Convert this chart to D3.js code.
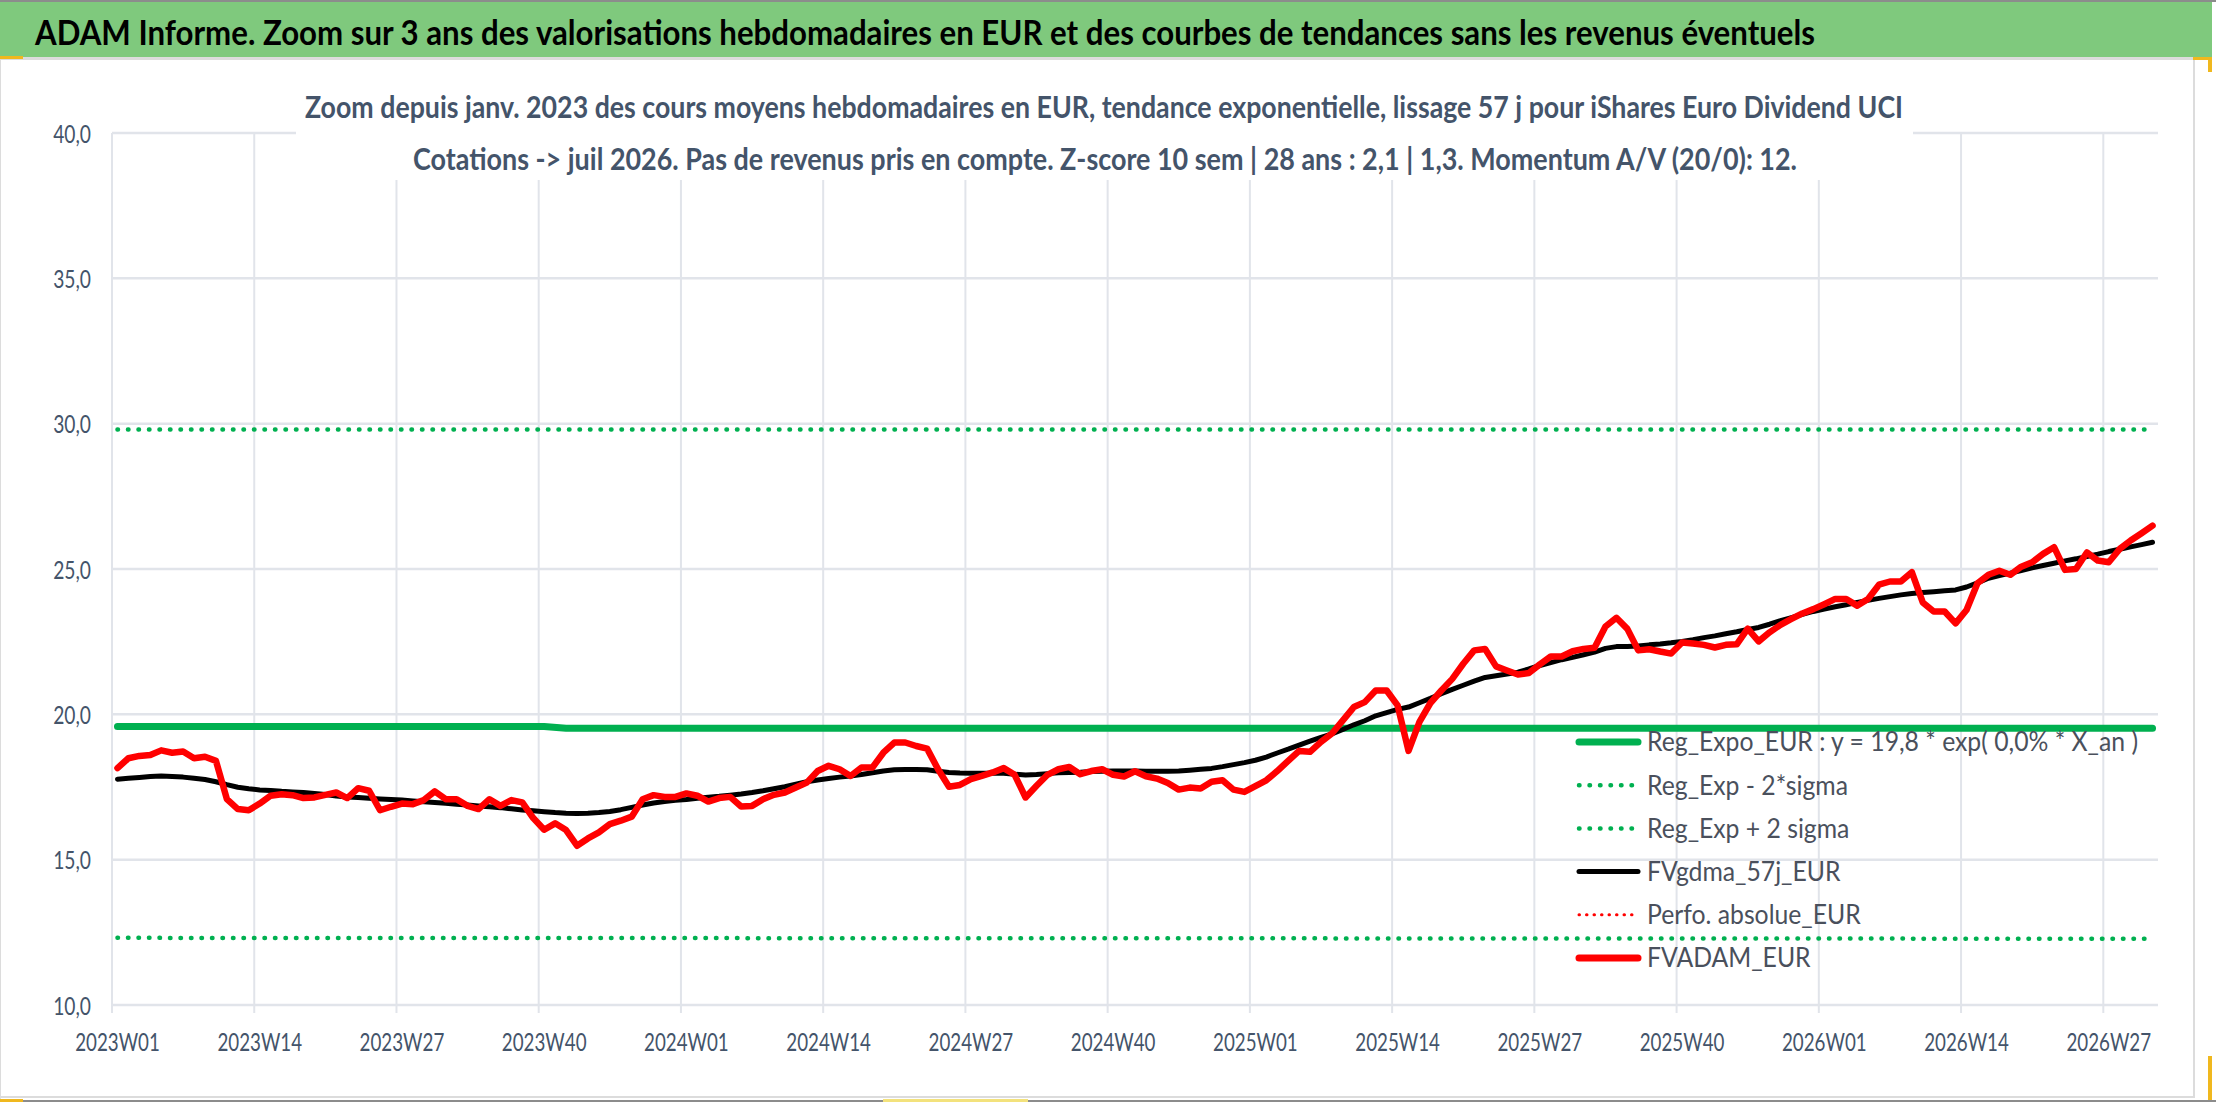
<!DOCTYPE html>
<html lang="fr">
<head>
  <meta charset="UTF-8">
  <title>ADAM Informe - iShares Euro Dividend UCI</title>
  <style>
    body { margin: 0; background: #fff; }
    svg { display: block; }
    text { font-family: Lato, "Open Sans", sans-serif; }
  </style>
</head>
<body>
  <svg id="chart" width="2216" height="1102"></svg>

  <script src="https://d3js.org/d3.v7.min.js"></script>
  <script>
    // Weekly categories 2023W01 .. 2026W31
    const years = [2023, 2024, 2025, 2026];
    const weeksPerYear = [52, 52, 52, 31];
    const weeks = [];
    years.forEach((yr, k) => {
      for (let w = 1; w <= weeksPerYear[k]; w++) weeks.push(yr + "W" + String(w).padStart(2, "0"));
    });

    const yTicks = [10, 15, 20, 25, 30, 35, 40];

    // FVADAM_EUR (red)
    const fvadam = [
      18.15, 18.49, 18.57, 18.60, 18.76, 18.68, 18.72, 18.49, 18.54, 18.40,
      17.08, 16.74, 16.70, 16.93, 17.20, 17.25, 17.22, 17.12, 17.14, 17.23,
      17.31, 17.12, 17.46, 17.37, 16.70, 16.82, 16.93, 16.91, 17.05, 17.35,
      17.08, 17.08, 16.85, 16.74, 17.08, 16.85, 17.05, 16.97, 16.43, 16.03,
      16.25, 16.02, 15.48, 15.73, 15.94, 16.22, 16.34, 16.48, 17.08, 17.22,
      17.16, 17.16, 17.28, 17.20, 17.00, 17.12, 17.16, 16.83, 16.85, 17.08,
      17.23, 17.31, 17.48, 17.65, 18.05, 18.23, 18.11, 17.88, 18.17, 18.17,
      18.68, 19.03, 19.03, 18.91, 18.82, 18.11, 17.51, 17.57, 17.77, 17.88,
      18.00, 18.15, 17.92, 17.14, 17.54, 17.92, 18.11, 18.19, 17.94, 18.05,
      18.11, 17.92, 17.86, 18.04, 17.87, 17.79, 17.64, 17.41, 17.48, 17.45,
      17.68, 17.73, 17.41, 17.33, 17.53, 17.73, 18.05, 18.40, 18.74, 18.71,
      19.05, 19.34, 19.79, 20.25, 20.42, 20.82, 20.82, 20.31, 18.74, 19.74,
      20.39, 20.82, 21.22, 21.74, 22.20, 22.25, 21.65, 21.51, 21.37, 21.42,
      21.72, 21.99, 21.99, 22.17, 22.25, 22.29, 23.02, 23.32, 22.94, 22.20,
      22.24, 22.16, 22.09, 22.47, 22.44, 22.39, 22.30, 22.39, 22.41, 22.95,
      22.51, 22.82, 23.08, 23.28, 23.47, 23.62, 23.79, 23.97, 23.97, 23.74,
      23.97, 24.46, 24.57, 24.57, 24.89, 23.85, 23.54, 23.54, 23.13, 23.59,
      24.51, 24.80, 24.94, 24.80, 25.08, 25.23, 25.52, 25.75, 24.97, 25.00,
      25.57, 25.29, 25.23, 25.69, 25.98, 26.23, 26.49
    ];

    // FVgdma_57j_EUR (black)
    const fvgdma = [
      17.77, 17.80, 17.83, 17.86, 17.88, 17.86, 17.84, 17.80, 17.76, 17.68,
      17.58, 17.49, 17.44, 17.40, 17.38, 17.35, 17.33, 17.31, 17.28, 17.24,
      17.19, 17.16, 17.14, 17.11, 17.09, 17.07, 17.05, 17.02, 16.99, 16.97,
      16.94, 16.91, 16.88, 16.85, 16.82, 16.79, 16.75, 16.71, 16.68, 16.65,
      16.62, 16.60, 16.59, 16.60, 16.62, 16.66, 16.72, 16.80, 16.88, 16.95,
      17.00, 17.04, 17.07, 17.11, 17.15, 17.18, 17.22, 17.26, 17.31, 17.37,
      17.44, 17.51, 17.60, 17.68, 17.74, 17.79, 17.84, 17.88, 17.93, 17.99,
      18.05, 18.09, 18.10, 18.10, 18.09, 18.04, 18.00, 17.98, 17.97, 17.97,
      17.97, 17.97, 17.94, 17.91, 17.93, 17.96, 17.99, 18.00, 18.01, 18.03,
      18.04, 18.05, 18.05, 18.05, 18.04, 18.04, 18.04, 18.05, 18.08, 18.11,
      18.14, 18.20, 18.27, 18.34, 18.42, 18.53, 18.67, 18.80, 18.94, 19.08,
      19.21, 19.33, 19.48, 19.64, 19.78, 19.95, 20.06, 20.17, 20.25, 20.40,
      20.55, 20.71, 20.86, 21.00, 21.14, 21.27, 21.33, 21.39, 21.45, 21.56,
      21.68, 21.78, 21.88, 21.96, 22.05, 22.14, 22.27, 22.33, 22.33, 22.35,
      22.39, 22.42, 22.46, 22.51, 22.57, 22.64, 22.70, 22.77, 22.84, 22.92,
      22.99, 23.10, 23.22, 23.33, 23.44, 23.54, 23.62, 23.70, 23.77, 23.85,
      23.92, 23.99, 24.05, 24.11, 24.16, 24.19, 24.22, 24.25, 24.28, 24.38,
      24.52, 24.68, 24.77, 24.86, 24.95, 25.04, 25.12, 25.20, 25.28, 25.35,
      25.43, 25.51, 25.60, 25.68, 25.76, 25.84, 25.92
    ];

    // Reg_Expo_EUR and the 2 sigma bands: [week index, value] knots
    const regExpo = [[0, 19.58], [39, 19.58], [41, 19.52], [186, 19.52]];
    const regMinus = [[0, 12.31], [186, 12.28]];
    const regPlus = [[0, 29.8], [186, 29.8]];

    const legendItems = [
      { label: "Reg_Expo_EUR : y = 19,8 * exp( 0,0% *  X_an )", color: "#00B050", width: 7, dash: null },
      { label: "Reg_Exp - 2*sigma", color: "#00B050", width: 4.5, dash: "0.5 10" },
      { label: "Reg_Exp + 2 sigma", color: "#00B050", width: 4.5, dash: "0.5 10" },
      { label: "FVgdma_57j_EUR", color: "#000000", width: 5, dash: null },
      { label: "Perfo. absolue_EUR", color: "#FF0000", width: 3, dash: "0.5 7" },
      { label: "FVADAM_EUR", color: "#FF0000", width: 7, dash: null }
    ];

    const svg = d3.select("#chart");
    const W = 2216, H = 1102;
    const plot = { left: 112, right: 2158, top: 133, bottom: 1005 };
    const textColor = "#44546A";
    const gridColor = "#E1E4EA";

    // stretch / squeeze text horizontally (the picture has condensed type)
    function fitWidth(sel, w) {
      sel.attr("textLength", w).attr("lengthAdjust", "spacingAndGlyphs");
    }
    function squeeze(sel, ratio) {
      sel.each(function () {
        const l = this.getComputedTextLength();
        this.setAttribute("textLength", l * ratio);
        this.setAttribute("lengthAdjust", "spacingAndGlyphs");
      });
    }

    // frame
    svg.append("rect").attr("width", W).attr("height", H).attr("fill", "#fff");
    svg.append("rect").attr("x", 0).attr("y", 2).attr("width", 2212).attr("height", 55).attr("fill", "#7FC97D");
    svg.append("rect").attr("x", 0).attr("y", 0).attr("width", W).attr("height", 2).attr("fill", "#8C8C8C");
    svg.append("rect").attr("x", 0).attr("y", 57).attr("width", 2194).attr("height", 3).attr("fill", "#DCDCDC");
    svg.append("rect").attr("x", 2193).attr("y", 57).attr("width", 2).attr("height", 1041).attr("fill", "#DCDCDC");
    svg.append("rect").attr("x", 0).attr("y", 1096).attr("width", 2195).attr("height", 2).attr("fill", "#DCDCDC");
    svg.append("rect").attr("x", 0).attr("y", 1100).attr("width", W).attr("height", 2).attr("fill", "#8C8C8C");
    svg.append("rect").attr("x", 0).attr("y", 60).attr("width", 1).attr("height", 1040).attr("fill", "#DCDCDC");

    // selection handles
    const handleColor = "#F0B81E";
    [[0, 56, 23, 3], [2193, 57, 19, 3], [2208, 57, 4, 15], [0, 1099, 23, 3], [2208, 1056, 4, 44]].forEach(h => {
      svg.append("rect").attr("x", h[0]).attr("y", h[1]).attr("width", h[2]).attr("height", h[3]).attr("fill", handleColor);
    });
    svg.append("rect").attr("x", 883).attr("y", 1099).attr("width", 145).attr("height", 3).attr("fill", "#F3E27C");

    // header title
    svg.append("text")
      .attr("x", 35).attr("y", 45)
      .attr("font-size", 35).attr("font-weight", "bold").attr("fill", "#000")
      .text("ADAM Informe. Zoom sur 3 ans des valorisations hebdomadaires en EUR et des courbes de tendances sans les revenus éventuels")
      .call(fitWidth, 1780);

    // scales
    const x = d3.scaleBand().domain(weeks).range([plot.left, plot.right]).paddingInner(0).paddingOuter(0);
    const bw = x.bandwidth();
    const cx = i => x(weeks[i]) + bw / 2;
    const y = d3.scaleLinear().domain([10, 40]).range([plot.bottom, plot.top]);

    const tickWeeks = weeks.filter((d, i) => i % 13 === 0);

    // gridlines
    const grid = svg.append("g");
    grid.selectAll(".hgrid")
      .data(yTicks)
      .enter().append("line")
      .attr("x1", plot.left).attr("x2", plot.right)
      .attr("y1", d => y(d)).attr("y2", d => y(d))
      .attr("stroke", gridColor).attr("stroke-width", 2.5);
    grid.selectAll(".vgrid")
      .data(tickWeeks)
      .enter().append("line")
      .attr("x1", d => x(d)).attr("x2", d => x(d))
      .attr("y1", plot.top).attr("y2", plot.bottom + 8)
      .attr("stroke", gridColor).attr("stroke-width", 2);

    // white box behind the chart subtitle
    svg.append("rect").attr("x", 296).attr("y", 68).attr("width", 1617).attr("height", 112).attr("fill", "#fff");

    const sub1 = svg.append("text")
      .attr("x", 1104).attr("y", 118).attr("text-anchor", "middle")
      .attr("font-size", 30).attr("font-weight", "bold").attr("fill", textColor)
      .text("Zoom depuis janv. 2023 des cours moyens hebdomadaires en EUR, tendance exponentielle, lissage 57 j pour iShares Euro Dividend UCI");
    fitWidth(sub1, 1598);
    const sub2 = svg.append("text")
      .attr("x", 1105).attr("y", 170).attr("text-anchor", "middle")
      .attr("font-size", 30).attr("font-weight", "bold").attr("fill", textColor)
      .text("Cotations -> juil 2026. Pas de revenus pris en compte. Z-score 10 sem | 28 ans : 2,1 | 1,3. Momentum A/V (20/0): 12.");
    fitWidth(sub2, 1384);

    // axes
    const fr = d3.formatLocale({ decimal: ",", thousands: " ", grouping: [3], currency: ["", " €"] });
    const yAxis = svg.append("g")
      .attr("transform", `translate(${plot.left - 21},0)`)
      .call(d3.axisLeft(y).tickValues(yTicks).tickFormat(fr.format(".1f")).tickSize(0).tickPadding(0));
    yAxis.select(".domain").remove();
    yAxis.selectAll("text")
      .attr("font-size", 25).attr("fill", textColor).attr("dy", "0.36em")
      .style("font-family", "Lato, sans-serif")
      .call(squeeze, 0.77);

    const xAxis = svg.append("g")
      .attr("transform", `translate(0,${plot.bottom})`)
      .call(d3.axisBottom(x).tickValues(tickWeeks).tickSize(0).tickPadding(0));
    xAxis.select(".domain").remove();
    xAxis.selectAll("text")
      .attr("y", 46).attr("dy", 0)
      .attr("font-size", 25).attr("fill", textColor)
      .style("font-family", "Lato, sans-serif")
      .call(squeeze, 0.75);

    // series
    const lineIdx = d3.line().x((d, i) => cx(i)).y(d => y(d));
    const lineKnots = d3.line().x(d => cx(d[0])).y(d => y(d[1]));
    const series = svg.append("g").attr("fill", "none").attr("stroke-linejoin", "round");

    series.append("path").datum(regExpo)
      .attr("d", lineKnots).attr("stroke", "#00B050").attr("stroke-width", 7).attr("stroke-linecap", "round");
    [regMinus, regPlus].forEach(band => {
      series.append("path").datum(band)
        .attr("d", lineKnots).attr("stroke", "#00B050").attr("stroke-width", 4.5)
        .attr("stroke-linecap", "round").attr("stroke-dasharray", "0.5 10");
    });
    series.append("path").datum(fvgdma)
      .attr("d", lineIdx).attr("stroke", "#000").attr("stroke-width", 5).attr("stroke-linecap", "round");
    series.append("path").datum(fvadam)
      .attr("d", lineIdx).attr("stroke", "#FF0000").attr("stroke-width", 6.5).attr("stroke-linecap", "round");

    // legend (transparent, over the plot)
    const legend = svg.append("g").attr("transform", "translate(1577,742)");
    const rows = legend.selectAll(".row")
      .data(legendItems)
      .enter().append("g")
      .attr("transform", (d, i) => `translate(0,${i * 43.2})`);
    rows.append("line")
      .attr("x1", 2).attr("x2", 61).attr("y1", 0).attr("y2", 0)
      .attr("stroke", d => d.color).attr("stroke-width", d => d.width)
      .attr("stroke-linecap", "round")
      .attr("stroke-dasharray", d => d.dash);
    const labels = rows.append("text")
      .attr("x", 70).attr("y", 0).attr("dy", "0.36em")
      .attr("font-size", 26).attr("fill", "#4A505C")
      .text(d => d.label);
    const firstLen = labels.node().getComputedTextLength();
    squeeze(labels, 491 / firstLen);
  </script>
</body>
</html>
